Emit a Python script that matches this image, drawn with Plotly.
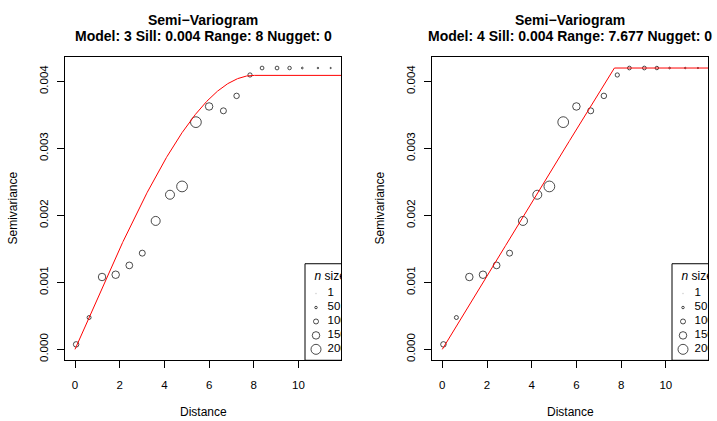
import numpy as np
import plotly.graph_objects as go

# ---------------- data ----------------
distance = [0.05, 0.63, 1.21, 1.82, 2.43, 3.01, 3.61, 4.25, 4.79, 5.41,
            6.00, 6.64, 7.23, 7.83, 8.37, 9.04, 9.60, 10.17, 10.87, 11.44]
semivariance = [0.000074, 0.000475, 0.00108, 0.001114, 0.001253, 0.001436,
                0.001917, 0.002308, 0.002432, 0.003392, 0.003626, 0.003561,
                0.003784, 0.004096, 0.0042, 0.0042, 0.0042, 0.0042, 0.0042, 0.0042]
n_pairs = [110, 80, 150, 150, 135, 120, 180, 180, 215, 215,
           150, 120, 110, 85, 75, 75, 70, 35, 30, 25]

model_id = [3, 4]
model_sill = [0.00409, 0.0042]
model_range = [8.0, 7.677]
model_nugget = [0.0, 0.0]
title_sill = ["0.004", "0.004"]
title_range = ["8", "7.677"]
title_nugget = ["0", "0"]

legend_n = [1, 50, 100, 150, 200]
legend_labels = ["1", "50", "100", "150", "200"]

x_ticks = [0, 2, 4, 6, 8, 10]
y_ticks = [0.0, 0.001, 0.002, 0.003, 0.004]
y_ticklabels = ["0.000", "0.001", "0.002", "0.003", "0.004"]

# ---------------- layout constants ----------------
W, H = 717, 421
FONT = "Liberation Sans"
PLOT_LEFT = [65, 432]
PLOT_W = 276
PLOT_TOP, PLOT_BOTTOM = 57, 362
XPX = 22.35          # px per distance unit
YPX = 67300.0        # px per semivariance unit
X0_OFFSET = [10.0, 10.3]   # px from left edge to x=0
Y0_OFFSET = 11.0           # px from bottom edge to y=0
SIZE_PER_N = 0.05


def model_curve(mid, h, sill, rng, nug):
    h = np.asarray(h, dtype=float)
    r = np.clip(h / rng, 0, 1)
    if mid == 3:  # spherical
        g = 1.5 * r - 0.5 * r ** 3
    else:         # linear with sill
        g = r
    return nug + (sill - nug) * g


fig = go.Figure()
hh = np.linspace(0, 12.5, 600)

for i in range(2):
    xa = "x" if i == 0 else "x2"
    ya = "y" if i == 0 else "y2"
    xmin = -X0_OFFSET[i] / XPX
    xmax = xmin + PLOT_W / XPX
    ymin = -Y0_OFFSET / YPX
    ymax = ymin + (PLOT_BOTTOM - PLOT_TOP) / YPX

    # legend box (bottom right, clipped by the plot region)
    lx0 = xmax - 36 / XPX
    ly1 = ymin + 97 / YPX
    fig.add_shape(type="rect", xref=xa, yref=ya, x0=lx0, x1=xmax + 1,
                  y0=ymin, y1=ly1, line=dict(color="black", width=1),
                  fillcolor="white", layer="below")

    # points
    fig.add_trace(go.Scatter(
        x=distance, y=semivariance, mode="markers", xaxis=xa, yaxis=ya,
        marker=dict(symbol="circle-open", color="black",
                    size=[max(n * SIZE_PER_N, 1.0) for n in n_pairs],
                    line=dict(width=1, color="black")),
        showlegend=False, cliponaxis=True))

    # model line
    fig.add_trace(go.Scatter(
        x=hh, y=model_curve(model_id[i], hh, model_sill[i], model_range[i], model_nugget[i]),
        mode="lines", xaxis=xa, yaxis=ya, line=dict(color="red", width=1),
        showlegend=False, cliponaxis=True))

    # legend content
    rows_px = [67, 53, 39, 25, 11]
    ly = [ymin + r / YPX for r in rows_px]
    lcx = xmax - 25 / XPX
    fig.add_trace(go.Scatter(
        x=[lcx] * len(legend_n), y=ly, mode="markers", xaxis=xa, yaxis=ya,
        marker=dict(symbol="circle-open",
                    color=["#cccccc"] + ["black"] * (len(legend_n) - 1),
                    size=[max(n * SIZE_PER_N, 1.0) for n in legend_n],
                    line=dict(width=1)),
        showlegend=False, cliponaxis=True))
    fig.add_trace(go.Scatter(
        x=[xmax - 13.5 / XPX] * len(legend_n), y=ly, mode="text", xaxis=xa, yaxis=ya,
        text=legend_labels, textposition="middle right",
        textfont=dict(family=FONT, size=11.5, color="black"),
        showlegend=False, cliponaxis=True))
    fig.add_trace(go.Scatter(
        x=[xmax - 26.5 / XPX], y=[ymin + 84 / YPX], mode="text", xaxis=xa, yaxis=ya,
        text=["<i>n</i> size"], textposition="middle right",
        textfont=dict(family=FONT, size=12, color="black"),
        showlegend=False, cliponaxis=True))

    dom_x = [PLOT_LEFT[i] / W, (PLOT_LEFT[i] + PLOT_W) / W]
    dom_y = [1 - PLOT_BOTTOM / H, 1 - PLOT_TOP / H]
    axis_common = dict(showgrid=False, zeroline=False, showline=True, mirror=True,
                       linecolor="black", linewidth=1, ticks="outside", ticklen=7,
                       tickcolor="black", tickwidth=1,
                       tickfont=dict(family=FONT, size=11.5, color="black"))
    fig.layout["xaxis" + ("" if i == 0 else "2")] = dict(
        domain=dom_x, range=[xmin, xmax], tickmode="array", tickvals=x_ticks,
        ticktext=[str(t) for t in x_ticks], anchor=ya, ticklabelstandoff=7,
        **axis_common)
    fig.layout["yaxis" + ("" if i == 0 else "2")] = dict(
        domain=dom_y, range=[ymin, ymax], tickmode="array", tickvals=y_ticks,
        ticktext=y_ticklabels, tickangle=-90, anchor=xa, ticklabelstandoff=4,
        **axis_common)

    cx = (PLOT_LEFT[i] + PLOT_W / 2) / W
    fig.add_annotation(text="<b>Semi\u2212Variogram</b>", x=cx, y=1 - 20 / H,
                       xref="paper", yref="paper", showarrow=False,
                       xanchor="center", yanchor="middle",
                       font=dict(family=FONT, size=14, color="black"))
    fig.add_annotation(text="<b>Model: %d Sill: %s Range: %s Nugget: %s</b>" % (
        model_id[i], title_sill[i], title_range[i], title_nugget[i]),
        x=cx, y=1 - 36.5 / H, xref="paper", yref="paper", showarrow=False,
        xanchor="center", yanchor="middle",
        font=dict(family=FONT, size=14, color="black"))
    fig.add_annotation(text="Distance", x=cx, y=1 - 414 / H, xref="paper", yref="paper",
                       showarrow=False, xanchor="center", yanchor="middle",
                       font=dict(family=FONT, size=12, color="black"))
    fig.add_annotation(text="Semivariance", x=(PLOT_LEFT[i] - 52) / W,
                       y=1 - (PLOT_TOP + PLOT_BOTTOM) / 2 / H,
                       xref="paper", yref="paper", showarrow=False, textangle=-90,
                       xanchor="center", yanchor="middle",
                       font=dict(family=FONT, size=12, color="black"))

fig.update_layout(width=W, height=H, margin=dict(l=0, r=0, t=0, b=0),
                  paper_bgcolor="white", plot_bgcolor="white", showlegend=False)

fig.write_html("out.html")
